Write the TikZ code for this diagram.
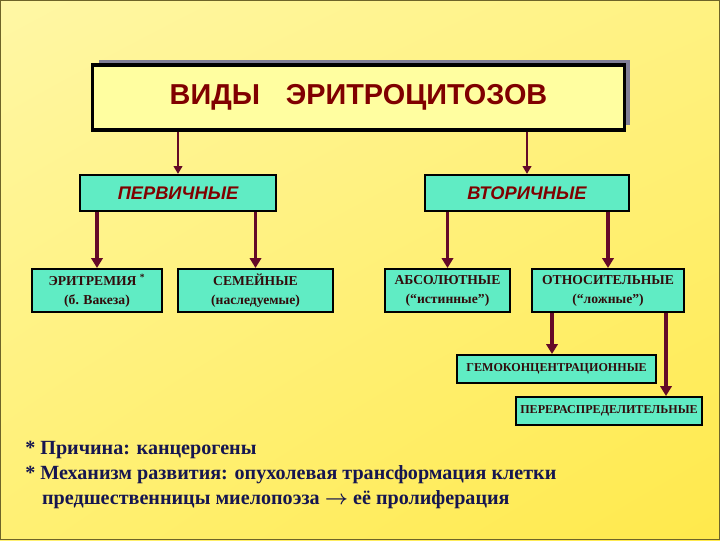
\documentclass[tikz,border=0pt]{standalone}
\usepackage{fontspec}
\setmainfont{Liberation Serif}
\setsansfont{Liberation Sans}
\usepackage{tikz}
\usepackage{xcolor}
\usetikzlibrary{arrows.meta,shadows,shadings}

\definecolor{bgpale}{RGB}{255,247,165}
\definecolor{bgmidA}{RGB}{255,242,130}
\definecolor{bgmidB}{RGB}{255,240,115}
\definecolor{bgdeep}{RGB}{255,233,75}
\definecolor{rimcol}{RGB}{110,100,40}
\definecolor{titlefill}{RGB}{255,254,160}
\definecolor{shadowgray}{RGB}{128,126,150}
\definecolor{tealfill}{RGB}{96,236,196}
\definecolor{arrowred}{RGB}{100,10,40}
\definecolor{darkred}{RGB}{128,0,0}
\definecolor{boxtext}{RGB}{50,12,12}
\definecolor{notenavy}{RGB}{22,22,80}

\begin{document}
\begin{tikzpicture}[x=0.025cm,y=-0.025cm,every node/.style={inner sep=0pt},
  kindbox/.style={draw=black,line width=1.5pt,fill=tealfill,text=darkred,
    font=\sffamily\bfseries\itshape\fontsize{13}{15}\selectfont,minimum height=0.9cm},
  formbox/.style={draw=black,line width=1.4pt,fill=tealfill,text=boxtext,align=center,
    font=\bfseries\fontsize{9.7}{13.5}\selectfont,minimum height=1.075cm},
  subbox/.style={draw=black,line width=1.4pt,fill=tealfill,text=boxtext,
    font=\bfseries\fontsize{8.6}{10}\selectfont,minimum height=0.7cm},
  thinarr/.style={arrowred,line width=1.5pt,-{Triangle[length=5.5pt,width=6pt]}},
  thickarr/.style={arrowred,line width=2.8pt,-{Triangle[length=7pt,width=8pt]}}]
\useasboundingbox (0,0) rectangle (720,540);
% background
\shade[upper left=bgpale,upper right=bgmidA,lower left=bgmidB,lower right=bgdeep] (0,0) rectangle (720,540);
\draw[rimcol,line width=0.8pt] (0.5,0.5) rectangle (719.5,539.5);

% title
\node[draw=black,line width=2.2pt,fill=titlefill,minimum width=13.275cm,minimum height=1.625cm,
  general shadow={shadow xshift=0.16cm,shadow yshift=0.13cm,fill=shadowgray},
  text=darkred,font=\sffamily\bfseries\fontsize{20.5}{24}\selectfont] (title) at (358.5,97.5)
  {ВИДЫ\hspace{0.9em}ЭРИТРОЦИТОЗОВ};

% first level
\node[kindbox,minimum width=4.9cm] (perv) at (178,193) {ПЕРВИЧНЫЕ};
\node[kindbox,minimum width=5.1cm] (vtor) at (527,193) {ВТОРИЧНЫЕ};

% second level
\node[formbox,minimum width=3.25cm] (erit) at (97,290.5) {ЭРИТРЕМИЯ \textsuperscript{*}\\(б. Вакеза)};
\node[formbox,minimum width=3.875cm] (sem) at (255.5,290.5) {СЕМЕЙНЫЕ\\(наследуемые)};
\node[formbox,minimum width=3.125cm] (abso) at (447.5,290.5) {АБСОЛЮТНЫЕ\\(“истинные”)};
\node[formbox,minimum width=3.8cm] (otn) at (608,290.5) {ОТНОСИТЕЛЬНЫЕ\\(“ложные”)};

% third level
\node[subbox,minimum width=4.975cm] (gemo) at (556.5,369) {ГЕМОКОНЦЕНТРАЦИОННЫЕ};
\node[subbox,minimum width=4.65cm] (perer) at (609,411) {ПЕРЕРАСПРЕДЕЛИТЕЛЬНЫЕ};
\coordinate (gx) at (552,0);
\coordinate (px) at (666,0);

% arrows
\draw[thinarr] (title.south -| perv.north) -- (perv.north);
\draw[thinarr] (title.south -| vtor.north) -- (vtor.north);
\draw[thickarr] (perv.south -| erit.north) -- (erit.north);
\draw[thickarr] (perv.south -| sem.north) -- (sem.north);
\draw[thickarr] (vtor.south -| abso.north) -- (abso.north);
\draw[thickarr] (vtor.south -| otn.north) -- (otn.north);
\draw[thickarr] (otn.south -| gx) -- (gx |- gemo.north);
\draw[thickarr] (otn.south -| px) -- (px |- perer.north);

% notes
\node[anchor=north west,align=left,text=notenavy,font=\bfseries\boldmath\fontsize{14.3}{17.8}\selectfont] (notes) at (25,441)
  {* Причина: канцерогены\\
   * Механизм развития: опухолевая трансформация клетки\\
   \hspace{12pt}предшественницы миелопоэза $\rightarrow$ её пролиферация};
\end{tikzpicture}
\end{document}
